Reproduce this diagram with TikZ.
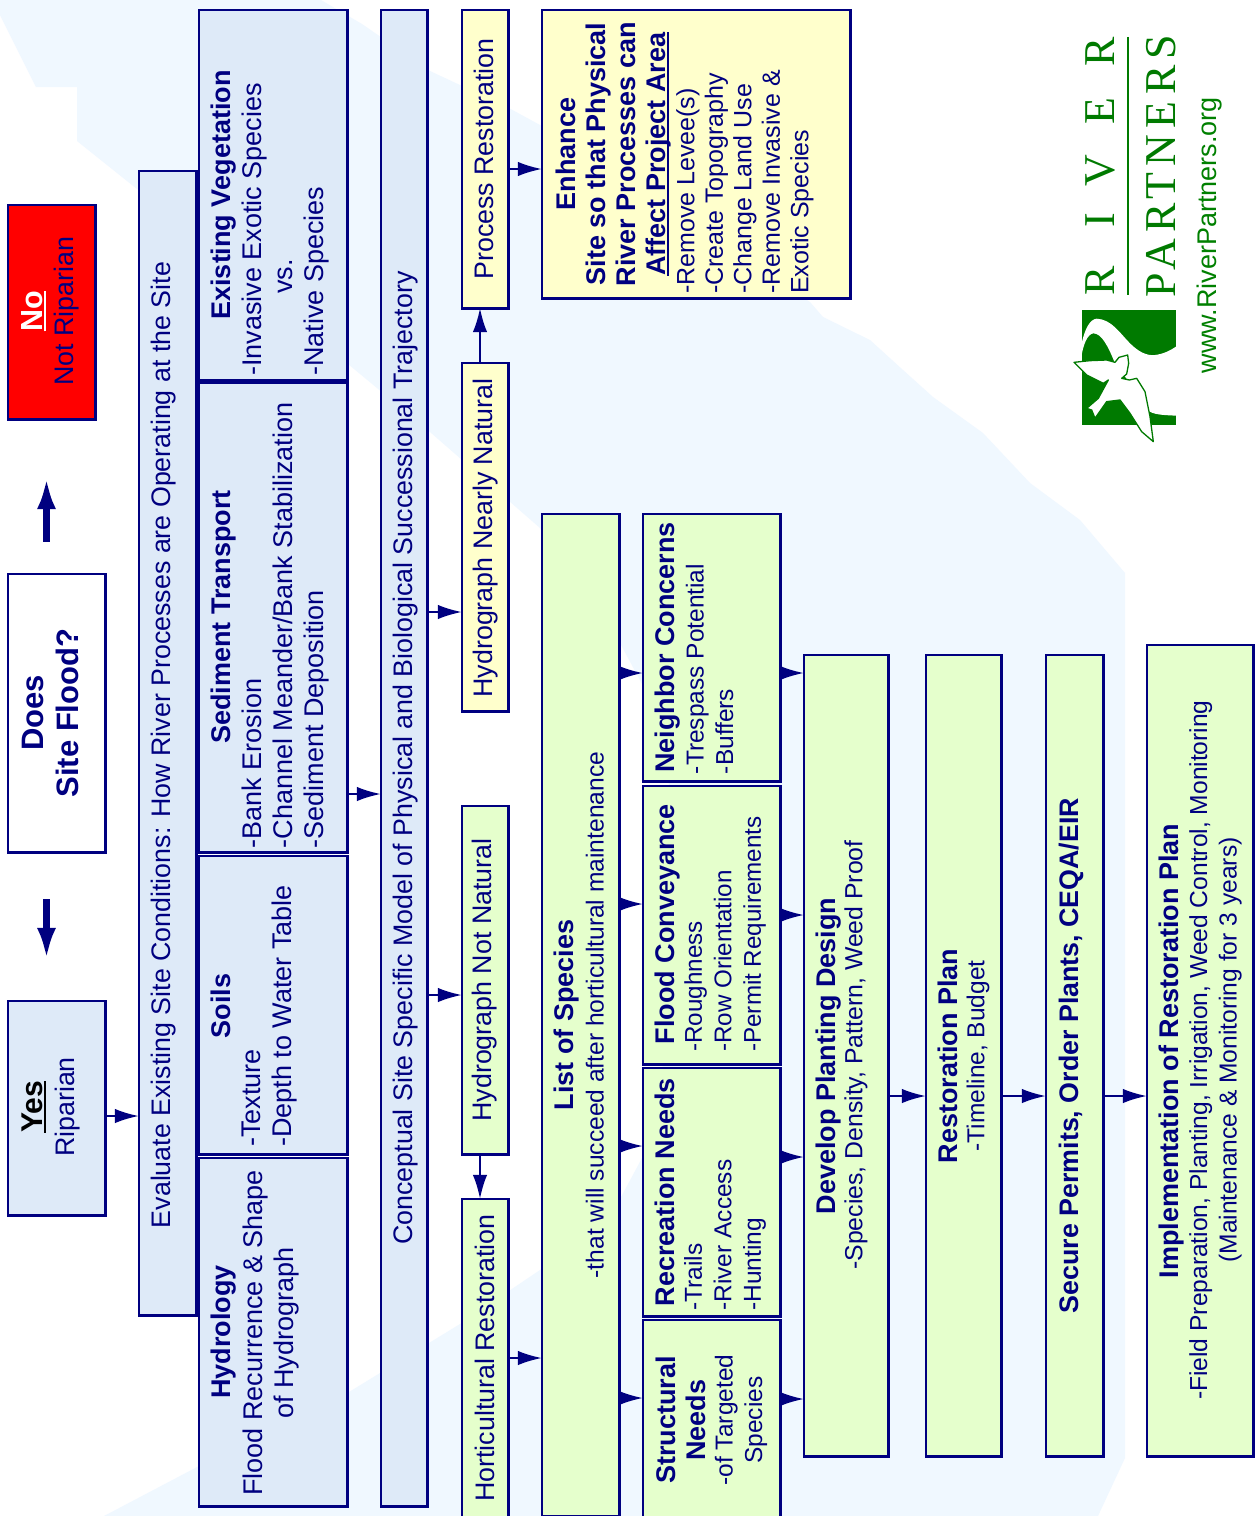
\documentclass[tikz,border=0pt]{standalone}
\usepackage{fontspec}
\setmainfont{Liberation Sans}
\newfontfamily\logofont{Liberation Serif}
\usetikzlibrary{arrows.meta}
\definecolor{navyline}{HTML}{000080}
\definecolor{paleblue}{HTML}{DEEAF8}
\definecolor{palegreen}{HTML}{E5FFCC}
\definecolor{paleyellow}{HTML}{FFFFCC}
\definecolor{river}{HTML}{F0F8FF}
\definecolor{logogreen}{HTML}{007A00}
\newcommand{\thickul}[1]{\setbox0=\hbox{#1}\leavevmode\rlap{\rule[-3.5pt]{\wd0}{2.2pt}}\box0}
\tikzset{
  box/.style={draw=navyline, line width=2.6pt, rotate=90, inner sep=0pt, outer sep=0pt},
  txt/.style={rotate=90, text=navyline, inner sep=0pt, align=center, font=\fontsize{26.8}{30}\selectfont},
  ttl/.style={txt, font=\fontsize{27}{30}\bfseries\selectfont},
  body/.style={txt, align=left, font=\fontsize{27}{31}\selectfont},
  small/.style={txt, font=\fontsize{24.5}{29.5}\selectfont},
  smallbody/.style={small, align=left},
  flowarrow/.style={draw=navyline, line width=2pt, -{Latex[length=24pt,width=14.5pt]}},
  bigarrow/.style={draw=navyline, line width=6.5pt, -{Latex[length=32pt,width=19pt]}},
}
\begin{document}
\begin{tikzpicture}[x=1pt,y=-1pt]
  \clip (0,0) rectangle (1257,1516);
  \fill[white] (0,0) rectangle (1257,1516);
  % river behind everything
  \fill[river] (0,0) -- (321,0) -- (362,24) -- (430,71) -- (507,107) -- (540,125) -- (810,302)
    -- (823,317) -- (870,340) -- (903,370) -- (933,397) -- (983,433) -- (1030,483) -- (1080,520)
    -- (1125,573) -- (1125,1458) -- (1098,1516) -- (104,1516) -- (199,1466) -- (349,1392)
    -- (460,1324) -- (540,1270) -- (620,1199) -- (642,1158) -- (700,900) -- (642,684) -- (620,643)
    -- (540,528) -- (430,432) -- (348,364) -- (137,189) -- (77,141) -- (77,87) -- (36,87) -- (0,15) -- cycle;

  % boxes: name/x/y/length/thickness/colour
  \foreach \n/\xc/\yc/\w/\h/\c in {no/51.5/312/216/89/red, does/56.5/713/280/99/white, yes/56.5/1108/216/99/paleblue,
    evaluate/167.5/743/1146/59/paleblue, vegetation/273/195/372/150/paleblue, sediment/273/617.5/471/150/paleblue,
    soils/273/1005/300/150/paleblue, hydrology/273/1332/350/150/paleblue, conceptual/404/758/1498/48/paleblue,
    process/485/159/300/48/paleyellow, nearly/485/537/350/48/paleyellow, notnatural/485/980/350/48/palegreen,
    horticultural/485/1358/320/48/palegreen, enhance/696/154/290/310/paleyellow, species/580.5/1015/1004/79/palegreen,
    neighbor/711.5/647.5/269/139/palegreen, conveyance/711.5/925/280/139/palegreen, recreation/711.5/1192/250/139/palegreen,
    structural/711.5/1420/202/139/palegreen, planting/846/1055.5/803/86/palegreen, restplan/963.5/1055.5/803/77/palegreen,
    permits/1074.5/1055.5/803/59/palegreen, implementation/1200/1050.5/813/108/palegreen}
  {
    \node[box, fill=\c, minimum width=\w-1.6, minimum height=\h-1.6] (\n) at (\xc,\yc) {};
  }

  % first column
  \node[ttl, text=white, font=\fontsize{30.5}{34}\bfseries\selectfont] (noTitle) at (34,311) {\thickul{No}};
  \node[txt] (noText) at (67,311) {Not Riparian};
  \node[ttl, font=\fontsize{31}{35}\bfseries\selectfont] (doesText) at (50.5,713) {Does\\Site Flood?};
  \node[ttl, text=black, font=\fontsize{30}{34}\bfseries\selectfont] (yesTitle) at (34,1107) {\thickul{Yes}};
  \node[txt] (yesText) at (68,1107) {Riparian};

  % site conditions
  \node[txt] (evaluateText) at (163.5,745) {Evaluate Existing Site Conditions: How River Processes are Operating at the Site};
  \node[ttl] (vegetationTitle) at (224,195) {Existing Vegetation};
  \node[body] (vegetationText) at (286,229.5) {-Invasive Exotic Species\\\hspace*{82pt}vs.\\-Native Species};
  \node[ttl] (sedimentTitle) at (224,617) {Sediment Transport};
  \node[body] (sedimentText) at (286,625.5) {-Bank Erosion\\-Channel Meander/Bank Stabilization\\-Sediment Deposition};
  \node[ttl] (soilsTitle) at (221,1006) {Soils};
  \node[body] (soilsText) at (270,1016) {-Texture\\-Depth to Water Table};
  \node[ttl] (hydrologyTitle) at (224,1332) {Hydrology};
  \node[body, align=center] (hydrologyText) at (271,1333) {Flood Recurrence \& Shape\\of Hydrograph};
  \node[txt] (conceptualText) at (406,758) {Conceptual Site Specific Model of Physical and Biological Successional Trajectory};

  % the three tracks
  \node[txt] (processText) at (484,159) {Process Restoration};
  \node[txt] (nearlyText) at (486,538) {Hydrograph Nearly Natural};
  \node[txt] (notnaturalText) at (notnatural) {Hydrograph Not Natural};
  \node[txt] (horticulturalText) at (horticultural) {Horticultural Restoration};
  \node[ttl, font=\fontsize{27}{30.3}\bfseries\selectfont] (enhanceTitle) at (613.5,154) {Enhance\\Site so that Physical\\River Processes can\\\thickul{Affect Project Area}};
  \node[smallbody, font=\fontsize{25}{28.5}\selectfont] (enhanceText) at (745,182) {-Remove Levee(s)\\-Create Topography\\-Change Land Use\\-Remove Invasive \&\\Exotic Species};

  % species and needs
  \node[txt, font=\fontsize{24.6}{30}\selectfont] (speciesText) at (579,1015) {\fontsize{27}{30}\bfseries\selectfont List of Species\\-that will succeed after horticultural maintenance};
  \node[ttl] (neighborTitle) at (668,647.5) {Neighbor Concerns};
  \node[smallbody] (neighborText) at (709.5,669) {-Trespass Potential\\-Buffers};
  \node[ttl] (conveyanceTitle) at (668,924) {Flood Conveyance};
  \node[smallbody, font=\fontsize{24.2}{29.5}\selectfont] (conveyanceText) at (725,934) {-Roughness\\-Row Orientation\\-Permit Requirements};
  \node[ttl] (recreationTitle) at (665,1192) {Recreation Needs};
  \node[smallbody] (recreationText) at (725,1235) {-Trails\\-River Access\\-Hunting};
  \node[ttl] (structuralTitle) at (681,1420) {Structural\\Needs};
  \node[small] (structuralText) at (741,1420) {-of Targeted\\Species};

  % lower steps
  \node[ttl] (plantingTitle) at (829,1056) {Develop Planting Design};
  \node[small, font=\fontsize{24.8}{30}\selectfont] (plantingText) at (856,1055) {-Species, Density, Pattern, Weed Proof};
  \node[ttl] (restplanTitle) at (948,1056) {Restoration Plan};
  \node[small] (restplanText) at (978,1056) {-Timeline, Budget};
  \node[ttl, font=\fontsize{26.8}{30}\bfseries\selectfont] (permitsText) at (1071,1055.5) {Secure Permits, Order Plants, CEQA/EIR};
  \node[ttl] (implementationTitle) at (1172,1051) {Implementation of Restoration Plan};
  \node[small, font=\fontsize{24.6}{29.5}\selectfont] (implementationText) at (1215.5,1050) {-Field Preparation, Planting, Irrigation, Weed Control, Monitoring\\(Maintenance \& Monitoring for 3 years)};

  % connectors
  \draw[bigarrow, shorten <=32pt, shorten >=58pt] (does.east -| 46.5,0) -- (no.west -| 46.5,0);
  \draw[bigarrow, shorten <=47pt, shorten >=41pt] (does.west -| 46.5,0) -- (yes.east -| 46.5,0);
  \draw[flowarrow] (yes.south |- 0,1116) -- (evaluate.north |- 0,1116);
  \draw[flowarrow] (sediment.south |- 0,794) -- (conceptual.north |- 0,794);
  \draw[flowarrow] (conceptual.south |- 0,612) -- (nearly.north |- 0,612);
  \draw[flowarrow] (conceptual.south |- 0,995) -- (notnatural.north |- 0,995);
  \draw[flowarrow] (notnatural.west -| 480,0) -- (horticultural.east -| 480,0);
  \draw[flowarrow] (nearly.east -| 480,0) -- (process.west -| 480,0);
  \draw[flowarrow] (process.south |- 0,169) -- (enhance.north |- 0,169);
  \draw[flowarrow] (horticultural.south) -- (species.north |- horticultural.south);
  \foreach \n/\ya/\yb in {neighbor/673/673, conveyance/904/915, recreation/1146/1157, structural/1398/1399}
  {
    \draw[flowarrow] (species.south |- 0,\ya) -- (\n.north |- 0,\ya);
    \draw[flowarrow] (\n.south |- 0,\yb) -- (planting.north |- 0,\yb);
  }
  \foreach \a/\b in {planting/restplan, restplan/permits, permits/implementation}
  {
    \draw[flowarrow] (\a.south |- 0,1096) -- (\b.north |- 0,1096);
  }

  % logo
  \begin{scope}[shift={(1070,300)}, x=0.3333pt, y=-0.3333pt]
    \fill[logogreen] (35,30) rectangle (318,375);
    \fill[white] (35,130) .. controls (45,85) and (60,58) .. (80,56) .. controls (125,58) and (150,100) .. (180,130)
      .. controls (205,155) and (230,168) .. (255,165) .. controls (280,162) and (300,152) .. (318,140)
      -- (318,347) .. controls (280,345) and (250,345) .. (232,330) -- (180,250) -- (135,190)
      .. controls (115,140) and (95,100) .. (70,100) .. controls (52,102) and (40,135) .. (35,165) -- cycle;
    \filldraw[draw=logogreen, fill=white, line width=1.3pt, line join=round]
      (12,187) -- (60,182) -- (110,180) -- (135,187) -- (147,172) -- (173,165) -- (176,190) -- (170,222) -- (155,235)
      -- (178,240) -- (200,235) -- (225,275) -- (240,350) -- (250,425) -- (215,395) -- (180,340) -- (150,300) -- (110,305)
      -- (75,355) -- (65,330) -- (50,325) -- (85,295) -- (115,240) -- (100,250) -- (50,225) -- (30,205) -- cycle;
  \end{scope}
  \node[rotate=90, text=logogreen, inner sep=0pt, font=\logofont\fontsize{44}{44}\selectfont] (logoRiver) at (1100,166)
    {R\hspace{38pt}I\hspace{27pt}V\hspace{30pt}E\hspace{31pt}R};
  \node[rotate=90, text=logogreen, inner sep=0pt, font=\logofont\fontsize{44}{44}\selectfont] (logoPartners) at (1161,166)
    {\addfontfeature{LetterSpace=14.5}PARTNERS};
  \draw[logogreen, line width=1.8pt] (logoRiver.south east -| 1128,0) -- (logoRiver.south west -| 1128,0);
  \node[rotate=90, text=green!50!black, inner sep=0pt, font=\fontsize{27}{30}\selectfont] (website) at (1210,235) {www.RiverPartners.org};
\end{tikzpicture}
\end{document}
